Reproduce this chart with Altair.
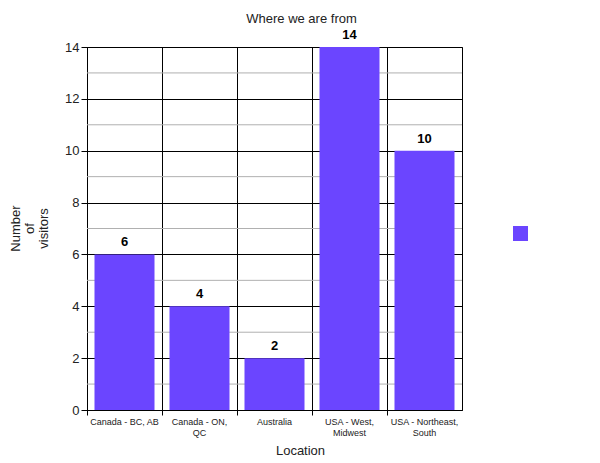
import altair as alt
import pandas as pd

categories = ["Canada - BC, AB", "Canada - ON, QC", "Australia", "USA - West, Midwest", "USA - Northeast, South"]
label_lines = [["Canada - BC, AB"], ["Canada - ON,", "QC"], ["Australia"], ["USA - West,", "Midwest"], ["USA - Northeast,", "South"]]
visitors = [6, 4, 2, 14, 10]
series = ["visitors"] * 5
major_ticks = [0, 2, 4, 6, 8, 10, 12, 14]
minor_ticks = [1, 3, 5, 7, 9, 11, 13]

df = pd.DataFrame({"Location": categories, "Visitors": visitors, "series": series})
minor_df = pd.DataFrame({"Visitors": minor_ticks})

expr = "''"
for cat, lines in zip(reversed(categories), reversed(label_lines)):
    arr = "[" + ",".join("'" + l + "'" for l in lines) + "]"
    expr = f"datum.value == '{cat}' ? {arr} : ({expr})"

BAR = "#6B45FF"

x = alt.X("Location:N", sort=categories,
          scale=alt.Scale(paddingInner=0.2, paddingOuter=0.1),
          axis=alt.Axis(title="Location", labelAngle=0, labelExpr=expr, labelFontSize=9,
                        labelColor="#222", labelLimit=200, labelLineHeight=11, labelPadding=2,
                        grid=True, gridColor="black", gridOpacity=1, bandPosition=-0.125,
                        tickSize=5, tickColor="black", domainColor="black",
                        titleFontSize=13, titleFontWeight="normal", titleColor="#222",
                        titleX=213, titleY=40, titleBaseline="middle"))

y = alt.Y("Visitors:Q", scale=alt.Scale(domain=[0, 14], nice=False),
          axis=alt.Axis(values=major_ticks, title=["Number", "of", "visitors"],
                        labelFontSize=13, labelColor="#222", labelPadding=2,
                        grid=True, gridColor="black", gridOpacity=1,
                        tickColor="black", tickSize=6, domainColor="black",
                        titleFontSize=13, titleFontWeight="normal", titleColor="#222",
                        titleAngle=-90, titleAlign="center", titleBaseline="top",
                        titleX=-78, titleY=181, titleLineHeight=14))

minor = alt.Chart(minor_df).mark_rule(color="#b0b0b0", strokeWidth=1).encode(
    y=alt.Y("Visitors:Q"),
)

bars = alt.Chart(df).mark_bar().encode(
    x=x, y=y,
    color=alt.Color("series:N", scale=alt.Scale(range=[BAR]),
                    legend=alt.Legend(title=None, orient="none", legendX=426, legendY=179,
                                      symbolType="square", symbolSize=225, symbolStrokeWidth=0,
                                      labelExpr="''", padding=0, symbolOpacity=1)),
)

labels = alt.Chart(df).mark_text(dy=-8, baseline="alphabetic", fontSize=13, fontWeight="bold", color="black").encode(
    x=alt.X("Location:N", sort=categories),
    y=alt.Y("Visitors:Q"),
    text=alt.Text("Visitors:Q"),
)

chart = alt.layer(minor, bars, labels).properties(
    width=375, height=363,
    title=alt.Title("Where we are from", fontSize=13, fontWeight="normal", color="#222", dx=27, offset=3),
    autosize=alt.AutoSizeParams(type="none"),
    padding={"left": 79, "top": 39, "right": 130, "bottom": 48},
).configure(font="Liberation Sans").configure_view(stroke="black", strokeWidth=1)

chart.save("out.html", embed_options={"renderer": "svg", "actions": False})
